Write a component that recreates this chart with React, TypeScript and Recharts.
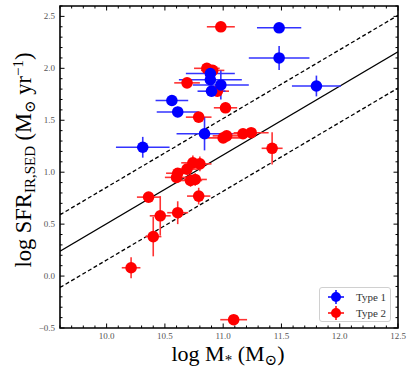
import React from 'react';
import { ScatterChart, Scatter, XAxis, YAxis, ErrorBar, ReferenceLine, ReferenceArea } from 'recharts';

// Type 1 (blue)
const type1Mass = [11.48, 11.48, 11.80, 10.56, 10.61, 10.84, 10.31, 10.89, 10.89, 10.98, 10.90];
const type1Sfr = [2.39, 2.10, 1.83, 1.69, 1.58, 1.37, 1.24, 1.95, 1.89, 1.84, 1.78];
const type1MassErr = [0.19, 0.26, 0.21, 0.14, 0.18, 0.24, 0.23, 0.21, 0.27, 0.24, 0.12];
const type1SfrErr = [0.02, 0.115, 0.1, 0.02, 0.05, 0.16, 0.1, 0.05, 0.05, 0.14, 0.05];

// Type 2 (red)
const type2Mass = [10.98, 10.86, 10.91, 10.69, 10.95, 11.02, 10.79, 11.0, 11.03, 11.17, 11.24, 11.42, 10.74, 10.8, 10.69, 10.61, 10.6, 10.72, 10.76, 10.79, 10.36, 10.46, 10.4, 10.61, 10.21, 11.09];
const type2Sfr = [2.40, 2.0, 1.98, 1.86, 1.78, 1.62, 1.53, 1.33, 1.35, 1.37, 1.38, 1.23, 1.09, 1.08, 1.03, 0.99, 0.95, 0.92, 0.93, 0.77, 0.76, 0.58, 0.38, 0.61, 0.08, -0.42];
const type2MassErr = [0.12, 0.11, 0.1, 0.11, 0.1, 0.1, 0.11, 0.15, 0.12, 0.12, 0.15, 0.09, 0.1, 0.1, 0.1, 0.1, 0.1, 0.1, 0.1, 0.1, 0.1, 0.09, 0.07, 0.09, 0.08, 0.115];
const type2SfrErr = [0.02, 0.03, 0.03, 0.03, 0.03, 0.05, 0.03, 0.03, 0.03, 0.03, 0.03, 0.155, 0.07, 0.07, 0.05, 0.05, 0.05, 0.06, 0.06, 0.08, 0.03, 0.19, 0.19, 0.11, 0.1, 0.03];

// Relation lines
const relMass = [9.6, 12.5];
const relSfr = [0.24, 2.16];
const relScatter = 0.35;

const xMajorTicks = [10.0, 10.5, 11.0, 11.5, 12.0, 12.5];
const yMajorTicks = [-0.5, 0.0, 0.5, 1.0, 1.5, 2.0, 2.5];

const X_DOMAIN: [number, number] = [9.6, 12.5];
const Y_DOMAIN: [number, number] = [-0.5, 2.6];

const PLOT_LEFT = 60;
const PLOT_RIGHT = 398;
const PLOT_TOP = 6;
const PLOT_BOTTOM = 328;

const buildMinor = (lo: number, hi: number) => {
  const out: number[] = [];
  for (let i = Math.round(lo * 10); i <= Math.round(hi * 10); i++) out.push(Math.round(i) / 10);
  return out;
};
const xTicksAll = buildMinor(X_DOMAIN[0], X_DOMAIN[1]);
const yTicksAll = buildMinor(Y_DOMAIN[0], Y_DOMAIN[1]);

const type1Data = type1Mass.map((m, i) => ({ x: m, y: type1Sfr[i], xe: type1MassErr[i], ye: type1SfrErr[i] }));
const type2Data = type2Mass.map((m, i) => ({ x: m, y: type2Sfr[i], xe: type2MassErr[i], ye: type2SfrErr[i] }));

const isMajor = (v: number, list: number[]) => list.some((t) => Math.abs(t - v) < 1e-6);
const fmt = (v: number) => v.toFixed(1).replace('-', '\u2212');

const FONT = '"Liberation Serif", "DejaVu Serif", serif';

const XTick = (props: any) => {
  const { x, payload } = props;
  const v = payload.value;
  const major = isMajor(v, xMajorTicks);
  const len = major ? 4.5 : 2.5;
  return (
    <g>
      <line x1={x} x2={x} y1={PLOT_BOTTOM} y2={PLOT_BOTTOM - len} stroke="#000" strokeWidth={1} />
      <line x1={x} x2={x} y1={PLOT_TOP} y2={PLOT_TOP + len} stroke="#000" strokeWidth={1} />
      {major && (
        <text x={x} y={339} textAnchor="middle" fontSize={9} fill="#555" fontFamily={FONT}>
          {fmt(v)}
        </text>
      )}
    </g>
  );
};

const YTick = (props: any) => {
  const { y, payload } = props;
  const v = payload.value;
  const major = isMajor(v, yMajorTicks);
  const len = major ? 4.5 : 2.5;
  return (
    <g>
      <line x1={PLOT_LEFT} x2={PLOT_LEFT + len} y1={y} y2={y} stroke="#000" strokeWidth={1} />
      <line x1={PLOT_RIGHT} x2={PLOT_RIGHT - len} y1={y} y2={y} stroke="#000" strokeWidth={1} />
      {major && (
        <text x={55} y={y + 3} textAnchor="end" fontSize={9} fill="#555" fontFamily={FONT}>
          {fmt(v)}
        </text>
      )}
    </g>
  );
};

const XLabel = () => (
  <text x={228} y={361} textAnchor="middle" fontSize={22} fill="#000" fontFamily={FONT}>
    log M
    <tspan fontSize={15} dy={4}>*</tspan>
    <tspan dy={-4}> (M</tspan>
    <tspan fontSize={15} dy={4}>{'\u2299'}</tspan>
    <tspan dy={-4}>)</tspan>
  </text>
);

const YLabel = () => (
  <text
    x={0}
    y={0}
    transform="translate(31,160) rotate(-90)"
    textAnchor="middle"
    fontSize={22.5}
    fill="#000"
    fontFamily={FONT}
  >
    log SFR
    <tspan fontSize={15} dy={4}>IR,SED</tspan>
    <tspan dy={-4}> (M</tspan>
    <tspan fontSize={15} dy={4}>{'\u2299'}</tspan>
    <tspan dy={-4}> yr</tspan>
    <tspan fontSize={15} dy={-8}>{'\u22121'}</tspan>
    <tspan dy={8}>)</tspan>
  </text>
);

const LegendMarker = ({ color }: { color: string }) => (
  <svg width={20} height={16} style={{ display: 'block' }}>
    <line x1={2} x2={18} y1={8} y2={8} stroke={color} strokeWidth={1.5} />
    <line x1={10} x2={10} y1={1} y2={15} stroke={color} strokeWidth={1.5} />
    <circle cx={10} cy={8} r={5} fill={color} />
  </svg>
);

export default function App() {
  return (
    <div style={{ position: 'absolute', left: 0, top: 0, width: 415, height: 374, background: '#fff' }}>
      <ScatterChart width={415} height={374} margin={{ top: PLOT_TOP, right: 415 - PLOT_RIGHT, bottom: 0, left: 0 }}>
        <XAxis
          type="number"
          dataKey="x"
          domain={X_DOMAIN}
          ticks={xTicksAll}
          interval={0}
          height={374 - PLOT_BOTTOM}
          tick={<XTick />}
          tickLine={false}
          axisLine={false}
          allowDataOverflow
          label={<XLabel />}
        />
        <YAxis
          type="number"
          dataKey="y"
          domain={Y_DOMAIN}
          ticks={yTicksAll}
          interval={0}
          width={PLOT_LEFT}
          tick={<YTick />}
          tickLine={false}
          axisLine={false}
          allowDataOverflow
          label={<YLabel />}
        />
        <ReferenceLine
          segment={[{ x: relMass[0], y: relSfr[0] }, { x: relMass[1], y: relSfr[1] }]}
          stroke="#000"
          strokeWidth={1.3}
          ifOverflow="hidden"
        />
        <ReferenceLine
          segment={[{ x: relMass[0], y: relSfr[0] + relScatter }, { x: relMass[1], y: relSfr[1] + relScatter }]}
          stroke="#000"
          strokeWidth={1.3}
          strokeDasharray="4 2.5"
          ifOverflow="hidden"
        />
        <ReferenceLine
          segment={[{ x: relMass[0], y: relSfr[0] - relScatter }, { x: relMass[1], y: relSfr[1] - relScatter }]}
          stroke="#000"
          strokeWidth={1.3}
          strokeDasharray="4 2.5"
          ifOverflow="hidden"
        />
        <Scatter name="Type 2" data={type2Data} fill="#ff0000" isAnimationActive={false} shape={(p: any) => <circle cx={p.cx} cy={p.cy} r={5.8} fill="#ff0000" />}>
          <ErrorBar dataKey="xe" direction="x" width={0} stroke="#ff3333" strokeWidth={1.6} />
          <ErrorBar dataKey="ye" direction="y" width={0} stroke="#ff3333" strokeWidth={1.6} />
        </Scatter>
        <Scatter name="Type 1" data={type1Data} fill="#0000ff" isAnimationActive={false} shape={(p: any) => <circle cx={p.cx} cy={p.cy} r={5.8} fill="#0000ff" />}>
          <ErrorBar dataKey="xe" direction="x" width={0} stroke="#3333ff" strokeWidth={1.6} />
          <ErrorBar dataKey="ye" direction="y" width={0} stroke="#3333ff" strokeWidth={1.6} />
        </Scatter>
        <ReferenceArea
          x1={X_DOMAIN[0]}
          x2={X_DOMAIN[1]}
          y1={Y_DOMAIN[0]}
          y2={Y_DOMAIN[1]}
          fill="none"
          fillOpacity={0}
          stroke="#000"
          strokeWidth={1.6}
          ifOverflow="visible"
        />
      </ScatterChart>
      <div
        style={{
          position: 'absolute',
          left: 319,
          top: 287,
          width: 72,
          height: 35,
          border: '1px solid #d0d0d0',
          borderRadius: 3,
          background: 'rgba(255,255,255,0.8)',
          fontFamily: FONT,
          fontSize: 11,
          color: '#333',
          boxSizing: 'border-box',
        }}
      >
        <div style={{ display: 'flex', alignItems: 'center', position: 'absolute', left: 6, top: 1, height: 16 }}>
          <LegendMarker color="#0000ff" />
          <span style={{ marginLeft: 10 }}>Type 1</span>
        </div>
        <div style={{ display: 'flex', alignItems: 'center', position: 'absolute', left: 6, top: 17, height: 16 }}>
          <LegendMarker color="#ff0000" />
          <span style={{ marginLeft: 10 }}>Type 2</span>
        </div>
      </div>
    </div>
  );
}
